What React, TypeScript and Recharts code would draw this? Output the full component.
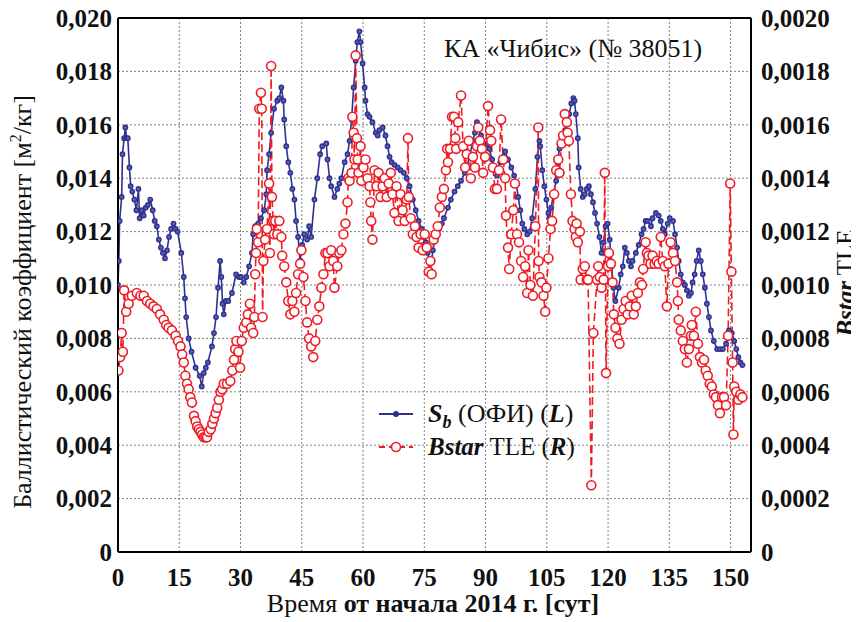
import React from 'react';
import { ComposedChart, Line, XAxis, YAxis, CartesianGrid, Legend } from 'recharts';

// S_b (ОФИ), left axis [м²/кг]: [day, value]
const sbSeries: [number, number][] = [
  [0, 0.0100], [0.2, 0.0109], [0.4, 0.0124], [0.9, 0.0133], [1.1, 0.0149], [1.5, 0.0155], [1.8, 0.0159],
  [2.1, 0.0155], [2.4, 0.0155], [2.8, 0.0144], [3.1, 0.0137], [3.5, 0.0135], [4.0, 0.0132], [4.5, 0.0128],
  [5.0, 0.0136], [5.3, 0.0125], [5.8, 0.0128], [6.3, 0.0126], [6.8, 0.0129], [7.3, 0.0130], [7.9, 0.0132],
  [8.5, 0.0128], [9.0, 0.0124], [9.5, 0.0122], [10.0, 0.0117], [10.5, 0.0114], [11.0, 0.0112], [11.5, 0.0110],
  [12.0, 0.0113], [12.5, 0.0118], [13.0, 0.0121], [13.6, 0.0123], [14.1, 0.0121], [14.6, 0.0120], [15.5, 0.0112],
  [16.1, 0.0103], [16.4, 0.0095], [16.7, 0.0088], [17.3, 0.0080], [18.0, 0.0075], [19.0, 0.0069], [20.0, 0.0066],
  [20.5, 0.0062], [21.0, 0.0067], [21.5, 0.0069], [22.0, 0.0071], [23.0, 0.0077], [23.5, 0.0082], [24.0, 0.0088],
  [24.5, 0.0099], [25.0, 0.0109], [25.3, 0.0103], [25.6, 0.0093], [25.9, 0.0089], [26.4, 0.0094], [27.0, 0.0094],
  [27.9, 0.0097], [28.9, 0.0104], [29.6, 0.0103], [30.1, 0.0103], [30.8, 0.0101], [31.4, 0.0103], [32.1, 0.0107],
  [32.8, 0.0112], [33.1, 0.0119], [33.6, 0.0122], [34.3, 0.0123], [35.0, 0.0125], [35.8, 0.0128], [36.3, 0.0134],
  [36.5, 0.0143], [37.0, 0.0149], [37.5, 0.0157], [38.2, 0.0166], [39.0, 0.0169], [39.5, 0.0170], [40.0, 0.0174],
  [40.5, 0.0169], [40.7, 0.0162], [41.2, 0.0152], [41.7, 0.0146], [42.2, 0.0142], [42.7, 0.0136], [43.2, 0.0132],
  [43.6, 0.0124], [44.1, 0.0118], [44.6, 0.0109], [44.9, 0.0113], [45.1, 0.0115], [45.6, 0.0119], [46.3, 0.0117],
  [46.8, 0.0122], [47.3, 0.0118], [48.1, 0.0132], [48.8, 0.0140], [49.5, 0.0149], [50.0, 0.0152], [51.0, 0.0153],
  [51.3, 0.0147], [51.8, 0.0140], [52.2, 0.0137], [53.0, 0.0133], [53.7, 0.0136], [54.2, 0.0138], [54.7, 0.0140],
  [55.5, 0.0146], [56.2, 0.0149], [56.7, 0.0154], [57.2, 0.0162], [57.7, 0.0174], [58.2, 0.0184], [58.6, 0.0191],
  [59.1, 0.0195], [59.4, 0.0191], [59.9, 0.0183], [60.4, 0.0174], [60.6, 0.0169], [61.1, 0.0164], [61.6, 0.0163],
  [62.3, 0.0161], [63.1, 0.0157], [63.6, 0.0156], [64.0, 0.0158], [64.8, 0.0159], [65.5, 0.0156], [66.0, 0.0152],
  [66.5, 0.0148], [67.0, 0.0146], [67.7, 0.0145], [68.5, 0.0144], [69.2, 0.0143], [70.0, 0.0142], [70.7, 0.0140],
  [71.4, 0.0137], [72.2, 0.0132], [72.9, 0.0128], [73.6, 0.0124], [74.4, 0.0121], [74.9, 0.0118], [75.4, 0.0116],
  [75.8, 0.0112], [76.2, 0.0109], [76.8, 0.0109], [77.1, 0.0113], [77.8, 0.0118], [78.6, 0.0121], [79.3, 0.0123],
  [79.8, 0.0125], [80.8, 0.0129], [81.5, 0.0132], [82.4, 0.0135], [83.2, 0.0137], [84.0, 0.0139], [84.9, 0.0142],
  [85.4, 0.0144], [86.2, 0.0149], [86.9, 0.0154], [87.4, 0.0157], [87.9, 0.0161], [88.4, 0.0159], [88.9, 0.0156],
  [89.2, 0.0152], [89.6, 0.0149], [90.4, 0.0153], [90.9, 0.0151], [91.6, 0.0147], [92.3, 0.0144], [92.8, 0.0141],
  [93.6, 0.0146], [94.3, 0.0148], [94.8, 0.0150], [95.5, 0.0147], [96.3, 0.0144], [97.0, 0.0141], [97.5, 0.0138],
  [98.0, 0.0133], [98.5, 0.0128], [99.0, 0.0123], [99.5, 0.0121], [100.2, 0.0119], [100.8, 0.0120], [101.4, 0.0125],
  [102.2, 0.0136], [102.7, 0.0148], [103.2, 0.0154], [103.4, 0.0152], [103.9, 0.0143], [104.4, 0.0137], [104.9, 0.0132],
  [105.4, 0.0127], [105.6, 0.0125], [106.1, 0.0129], [106.6, 0.0134], [107.3, 0.0139], [107.6, 0.0146], [108.1, 0.0151],
  [108.6, 0.0154], [109.0, 0.0156], [109.5, 0.0158], [110.0, 0.0162], [110.5, 0.0164], [111.0, 0.0168], [111.5, 0.0170],
  [111.8, 0.0169], [112.1, 0.0164], [112.6, 0.0155], [112.8, 0.0144], [113.3, 0.0136], [113.8, 0.0133], [114.3, 0.0134],
  [114.8, 0.0136], [115.3, 0.0137], [115.8, 0.0134], [116.3, 0.0131], [116.8, 0.0127], [117.3, 0.0123], [117.9, 0.0118],
  [118.4, 0.0112], [118.9, 0.0116], [119.4, 0.0122], [119.9, 0.0123], [120.4, 0.0117], [120.9, 0.0107], [121.3, 0.0099],
  [121.8, 0.0094], [122.6, 0.0099], [123.1, 0.0104], [123.6, 0.0107], [124.1, 0.0114], [124.6, 0.0112], [125.1, 0.0109],
  [125.6, 0.0107], [126.0, 0.0109], [126.8, 0.0112], [127.5, 0.0115], [128.2, 0.0119], [128.7, 0.0121], [129.2, 0.0124],
  [129.7, 0.0124], [130.5, 0.0122], [130.9, 0.0125], [131.7, 0.0127], [132.4, 0.0126], [132.9, 0.0124], [133.4, 0.0121],
  [133.9, 0.0119], [134.6, 0.0123], [135.1, 0.0125], [135.9, 0.0124], [136.4, 0.0119], [136.9, 0.0114], [137.3, 0.0109],
  [137.8, 0.0104], [138.3, 0.0101], [138.8, 0.0100], [139.3, 0.0098], [139.8, 0.0096], [140.3, 0.0097], [140.7, 0.0101],
  [141.2, 0.0104], [141.7, 0.0109], [142.2, 0.0113], [142.7, 0.0109], [143.2, 0.0104], [143.7, 0.0099], [144.2, 0.0093],
  [144.7, 0.0088], [145.2, 0.0083], [145.9, 0.0079], [146.7, 0.0076], [147.4, 0.0076], [148.1, 0.0076], [148.9, 0.0078],
  [149.6, 0.0083], [150.3, 0.0082], [150.9, 0.0079], [151.4, 0.0076], [151.9, 0.0073], [152.4, 0.0071], [152.9, 0.0070],
];

// Bstar TLE, right axis: [day, value]
const bstarSeries: [number, number][] = [
  [0.1, 0.00068], [0.5, 0.00073], [0.9, 0.00082], [1.2, 0.00075], [1.5, 0.00098], [2.0, 0.00090], [2.6, 0.00093],
  [3.4, 0.00096], [4.6, 0.00097], [5.5, 0.00096], [6.3, 0.00096], [7.1, 0.00094], [7.9, 0.00093], [8.7, 0.00092],
  [9.5, 0.00091], [10.3, 0.00089], [11.2, 0.00087], [11.8, 0.00085], [12.4, 0.00084], [13.2, 0.00083], [14.1, 0.00081],
  [14.7, 0.00079], [15.3, 0.00077], [15.7, 0.00074], [16.1, 0.00071], [16.5, 0.00066], [16.9, 0.00063], [17.3, 0.00061],
  [17.7, 0.00058], [18.1, 0.00056], [18.6, 0.00051], [19.0, 0.00049], [19.4, 0.00047], [19.8, 0.00046], [20.2, 0.00045],
  [20.6, 0.00044], [21.0, 0.00043], [21.4, 0.00043], [21.8, 0.00043], [22.2, 0.00045], [22.7, 0.00046], [23.1, 0.00048],
  [23.5, 0.00050], [23.9, 0.00052], [24.3, 0.00054], [24.7, 0.00057], [25.1, 0.00060], [25.5, 0.00061], [25.9, 0.00063],
  [26.7, 0.00063], [27.5, 0.00064], [28.0, 0.00068], [28.4, 0.00072], [28.7, 0.00076], [29.0, 0.00079], [29.5, 0.00075],
  [29.9, 0.00069], [30.3, 0.00079], [30.8, 0.00084], [31.4, 0.00086], [31.8, 0.00089], [32.3, 0.00093], [32.6, 0.00084],
  [33.1, 0.00082], [33.4, 0.00088], [33.6, 0.00104], [33.8, 0.00112], [34.0, 0.00121], [34.3, 0.00116], [34.6, 0.00166],
  [35.0, 0.00172], [35.2, 0.00166], [35.4, 0.00088], [35.6, 0.00109], [36.0, 0.00117], [36.5, 0.00121], [37.0, 0.00138],
  [37.2, 0.00112], [37.5, 0.00182], [37.7, 0.00133], [38.0, 0.00124], [38.2, 0.00119], [38.5, 0.00124], [39.0, 0.00119],
  [39.5, 0.00124], [40.0, 0.00118], [40.2, 0.00111], [40.7, 0.00107], [41.2, 0.00101], [41.7, 0.00094], [42.2, 0.00089],
  [42.7, 0.00094], [43.2, 0.00090], [43.6, 0.00097], [44.1, 0.00104], [44.6, 0.00108], [44.9, 0.00113], [45.4, 0.00103],
  [45.9, 0.00094], [46.3, 0.00086], [46.8, 0.00080], [47.3, 0.00077], [47.8, 0.00073], [48.3, 0.00079], [48.8, 0.00087],
  [49.3, 0.00092], [49.8, 0.00099], [50.3, 0.00104], [50.8, 0.00112], [51.3, 0.00112], [51.8, 0.00107], [52.2, 0.00113],
  [52.7, 0.00109], [53.0, 0.00099], [53.7, 0.00107], [54.2, 0.00112], [54.7, 0.00113], [55.2, 0.00119], [55.7, 0.00123],
  [56.2, 0.00131], [56.4, 0.00140], [56.7, 0.00139], [57.2, 0.00142], [57.4, 0.00163], [57.7, 0.00157], [57.9, 0.00147],
  [58.2, 0.00186], [58.5, 0.00155], [58.7, 0.00147], [58.9, 0.00142], [59.4, 0.00152], [59.6, 0.00139], [60.1, 0.00144],
  [60.6, 0.00147], [61.1, 0.00140], [61.6, 0.00137], [61.8, 0.00131], [62.0, 0.00124], [62.3, 0.00117], [62.8, 0.00143],
  [63.3, 0.00137], [63.8, 0.00142], [64.3, 0.00133], [64.8, 0.00137], [65.3, 0.00140], [65.8, 0.00133], [66.3, 0.00138],
  [66.8, 0.00142], [67.2, 0.00134], [67.7, 0.00127], [68.2, 0.00137], [68.7, 0.00124], [69.2, 0.00134], [69.7, 0.00128],
  [70.2, 0.00124], [70.7, 0.00132], [71.0, 0.00155], [71.2, 0.00133], [71.7, 0.00125], [72.2, 0.00119], [72.7, 0.00122],
  [73.1, 0.00118], [73.6, 0.00114], [74.1, 0.00119], [74.6, 0.00113], [75.1, 0.00119], [75.6, 0.00114], [76.1, 0.00105],
  [76.5, 0.00109], [76.8, 0.00104], [77.3, 0.00117], [77.8, 0.00119], [78.3, 0.00122], [78.8, 0.00129], [79.3, 0.00133],
  [79.8, 0.00136], [80.3, 0.00143], [80.6, 0.00151], [80.8, 0.00146], [81.3, 0.00151], [81.8, 0.00163], [82.3, 0.00163],
  [82.6, 0.00155], [82.8, 0.00151], [83.3, 0.00161], [84.0, 0.00171], [84.5, 0.00152], [85.0, 0.00144], [85.4, 0.00149],
  [85.9, 0.00154], [86.4, 0.00140], [86.9, 0.00148], [87.4, 0.00144], [87.9, 0.00152], [88.2, 0.00159], [88.6, 0.00154],
  [89.1, 0.00151], [89.4, 0.00142], [89.9, 0.00148], [90.6, 0.00167], [91.1, 0.00158], [91.4, 0.00154], [91.8, 0.00144],
  [92.3, 0.00136], [92.8, 0.00136], [93.3, 0.00143], [93.8, 0.00162], [94.3, 0.00147], [94.8, 0.00140], [95.0, 0.00126],
  [95.5, 0.00114], [95.8, 0.00106], [96.3, 0.00119], [96.8, 0.00128], [97.2, 0.00138], [97.7, 0.00119], [98.2, 0.00116],
  [98.7, 0.00109], [99.2, 0.00103], [99.7, 0.00107], [100.2, 0.00097], [100.5, 0.00113], [101.0, 0.00100], [101.6, 0.00096],
  [102.2, 0.00122], [102.9, 0.00159], [103.0, 0.00109], [103.2, 0.00103], [103.7, 0.00101], [104.2, 0.00096], [104.6, 0.00090],
  [104.9, 0.00099], [105.4, 0.00110], [105.9, 0.00121], [106.3, 0.00124], [106.8, 0.00134], [107.3, 0.00143], [107.8, 0.00147],
  [108.1, 0.00142], [108.6, 0.00153], [109.0, 0.00156], [109.4, 0.00164], [109.9, 0.00161], [110.1, 0.00157], [110.4, 0.00154],
  [110.9, 0.00134], [111.3, 0.00124], [111.8, 0.00121], [112.1, 0.00118], [112.3, 0.00123], [112.6, 0.00116], [113.1, 0.00120],
  [113.3, 0.00102], [113.8, 0.00106], [114.3, 0.00107], [114.8, 0.00102], [115.1, 0.00102], [115.9, 0.00025], [116.4, 0.00082],
  [117.3, 0.00102], [117.6, 0.00107], [118.0, 0.00103], [118.4, 0.00099], [118.9, 0.00102], [119.2, 0.00142], [119.5, 0.00067],
  [120.0, 0.00107], [120.2, 0.00112], [120.7, 0.00108], [121.1, 0.00101], [121.4, 0.00089], [121.8, 0.00084], [122.3, 0.00080],
  [122.8, 0.00078], [123.3, 0.00087], [123.8, 0.00091], [124.3, 0.00094], [124.8, 0.00089], [125.3, 0.00092], [125.8, 0.00096],
  [126.3, 0.00089], [126.8, 0.00092], [127.3, 0.00097], [127.8, 0.00101], [128.3, 0.00100], [128.6, 0.00106], [129.2, 0.00116],
  [129.5, 0.00112], [129.9, 0.00111], [130.4, 0.00108], [130.9, 0.00111], [131.4, 0.00108], [131.9, 0.00109], [132.4, 0.00108],
  [132.9, 0.00118], [133.4, 0.00109], [133.9, 0.00107], [134.4, 0.00092], [134.8, 0.00108], [135.3, 0.00116], [135.9, 0.00112],
  [136.4, 0.00109], [136.9, 0.00101], [137.1, 0.00094], [137.3, 0.00087], [137.8, 0.00083], [138.3, 0.00079], [138.8, 0.00076],
  [139.3, 0.00071], [139.8, 0.00076], [140.3, 0.00081], [140.5, 0.00085], [141.0, 0.00081], [141.5, 0.00090], [142.0, 0.00078],
  [142.5, 0.00073], [143.0, 0.00071], [143.5, 0.00072], [143.9, 0.00068], [144.4, 0.00066], [144.9, 0.00063], [145.4, 0.00062],
  [145.9, 0.00059], [146.4, 0.00058], [146.9, 0.00055], [147.4, 0.00052], [147.9, 0.00058], [148.4, 0.00058], [148.9, 0.00055],
  [149.4, 0.00081], [149.9, 0.00138], [150.2, 0.00105], [150.5, 0.00071], [150.7, 0.00044], [150.9, 0.00062], [151.4, 0.00060],
  [151.9, 0.00057], [152.4, 0.00059], [152.9, 0.00058],
];

const xTicks = [0, 15, 30, 45, 60, 75, 90, 105, 120, 135, 150];
const xMinorTicks = [0, 3, 6, 9, 12, 15, 18, 21, 24, 27, 30, 33, 36, 39, 42, 45, 48, 51, 54, 57, 60, 63, 66, 69, 72, 75,
  78, 81, 84, 87, 90, 93, 96, 99, 102, 105, 108, 111, 114, 117, 120, 123, 126, 129, 132, 135, 138, 141, 144, 147, 150, 153];
const leftTicks = [0, 0.002, 0.004, 0.006, 0.008, 0.010, 0.012, 0.014, 0.016, 0.018, 0.020];
const leftMinorTicks = [0, 0.001, 0.002, 0.003, 0.004, 0.005, 0.006, 0.007, 0.008, 0.009, 0.010, 0.011, 0.012, 0.013,
  0.014, 0.015, 0.016, 0.017, 0.018, 0.019, 0.020];
const rightTicks = [0, 0.0002, 0.0004, 0.0006, 0.0008, 0.0010, 0.0012, 0.0014, 0.0016, 0.0018, 0.0020];
const rightMinorTicks = [0, 0.0001, 0.0002, 0.0003, 0.0004, 0.0005, 0.0006, 0.0007, 0.0008, 0.0009, 0.0010, 0.0011,
  0.0012, 0.0013, 0.0014, 0.0015, 0.0016, 0.0017, 0.0018, 0.0019, 0.0020];

const titleText = 'КА «Чибис» (№ 38051)';

const sbData = sbSeries.map(([t, v]) => ({ t, sb: v }));
const bstarData = bstarSeries.map(([t, v]) => ({ t, bstar: v }));

const FONT = 'Liberation Serif, Times New Roman, DejaVu Serif, serif';
const SERIF = { fontFamily: FONT };
const BLUE = '#2e3190';
const RED = '#ee1c25';
const INK = '#111';

const fmtLeft = (v: number) => (v === 0 ? '0' : v.toFixed(3).replace('.', ','));
const fmtRight = (v: number) => (v === 0 ? '0' : v.toFixed(4).replace('.', ','));

const tickStyle = { fontSize: 25, fontWeight: 'bold' as const, fill: INK, style: SERIF };

const LeftTitle = () => (
  <text x={15} y={294} transform="rotate(-90 15 294)" textAnchor="middle" dy={8}
    style={SERIF} fontSize={26} fill={INK}>
    <tspan>Баллистический коэффициент [м</tspan>
    <tspan fontSize={16} dy={-10}>2</tspan>
    <tspan dy={10}>/кг]</tspan>
  </text>
);

const RightTitle = () => (
  <text x={838} y={275} transform="rotate(-90 838 275)" textAnchor="middle" dy={8}
    style={SERIF} fontSize={25} fill={INK}>
    <tspan fontStyle="italic" fontWeight="bold">Bstar</tspan>
    <tspan> TLE</tspan>
  </text>
);

const BottomTitle = () => (
  <text x={425} y={604} textAnchor="middle" style={SERIF} fontSize={26} fill={INK}>
    <tspan>Время </tspan>
    <tspan fontWeight="bold">от начала 2014 г. [сут]</tspan>
  </text>
);

const TopTitle = () => (
  <text x={565} y={49} textAnchor="middle" style={SERIF} fontSize={26} fill={INK}>
    {titleText}
  </text>
);

const LegendBox = () => (
  <svg width={240} height={80} style={{ overflow: 'visible', display: 'block' }}>
    <line x1={9} x2={43} y1={19} y2={19} stroke={BLUE} strokeWidth={2} />
    <circle cx={26} cy={19} r={2.6} fill={BLUE} stroke={BLUE} />
    <text x={58} y={27} style={SERIF} fontSize={26} fill={INK}>
      <tspan fontStyle="italic" fontWeight="bold">S</tspan>
      <tspan fontStyle="italic" fontWeight="bold" fontSize={18} dy={6}>b</tspan>
      <tspan dy={-6}> (ОФИ) (</tspan>
      <tspan fontStyle="italic" fontWeight="bold">L</tspan>
      <tspan>)</tspan>
    </text>
    <line x1={9} x2={43} y1={52} y2={52} stroke={RED} strokeWidth={1.8} strokeDasharray="6 4" />
    <circle cx={26} cy={52} r={4.5} fill="#fff" stroke={RED} strokeWidth={1.6} />
    <text x={58} y={60} style={SERIF} fontSize={25} fill={INK}>
      <tspan fontStyle="italic" fontWeight="bold">Bstar</tspan>
      <tspan> TLE (</tspan>
      <tspan fontStyle="italic" fontWeight="bold">R</tspan>
      <tspan>)</tspan>
    </text>
  </svg>
);

export default function App() {
  return (
    <div style={{ width: 851, height: 612, fontFamily: FONT }}>
      <ComposedChart width={851} height={612} margin={{ top: 10, right: 18, bottom: 28, left: 20 }}
        style={SERIF}>
        <CartesianGrid xAxisId="main" yAxisId="left" stroke="#808080" strokeDasharray="2 2" strokeWidth={1} />
        <XAxis xAxisId="main" dataKey="t" type="number" domain={[0, 155]} allowDataOverflow ticks={xTicks} interval={0}
          height={40} tickLine={false} tickSize={0} tickMargin={16} tick={tickStyle}
          axisLine={{ stroke: '#000', strokeWidth: 2 }} label={BottomTitle} />
        <XAxis xAxisId="top" orientation="top" mirror type="number" domain={[0, 155]} allowDataOverflow ticks={xMinorTicks}
          interval={0} tick={false} tickSize={5} tickLine={{ stroke: '#000', strokeWidth: 1 }}
          axisLine={{ stroke: '#000', strokeWidth: 2 }} label={TopTitle} />
        <XAxis xAxisId="bottomMinor" orientation="bottom" mirror type="number" domain={[0, 155]} allowDataOverflow
          ticks={xMinorTicks} interval={0} tick={false} tickSize={5} tickLine={{ stroke: '#000', strokeWidth: 1 }}
          axisLine={false} />
        <YAxis yAxisId="left" orientation="left" type="number" domain={[0, 0.02]} allowDataOverflow ticks={leftTicks}
          interval={0} width={90} tickLine={false} tickSize={0} tickMargin={6} tick={tickStyle}
          tickFormatter={fmtLeft} axisLine={{ stroke: '#000', strokeWidth: 2 }} label={LeftTitle} />
        <YAxis yAxisId="leftMinor" orientation="left" mirror type="number" domain={[0, 0.02]} allowDataOverflow
          ticks={leftMinorTicks} interval={0} tick={false} tickSize={5} tickLine={{ stroke: '#000', strokeWidth: 1 }}
          axisLine={false} />
        <YAxis yAxisId="right" orientation="right" type="number" domain={[0, 0.002]} allowDataOverflow ticks={rightTicks}
          interval={0} width={90} tickLine={false} tickSize={0} tickMargin={10} tick={tickStyle}
          tickFormatter={fmtRight} axisLine={{ stroke: '#000', strokeWidth: 2 }} label={RightTitle} />
        <YAxis yAxisId="rightMinor" orientation="right" mirror type="number" domain={[0, 0.002]} allowDataOverflow
          ticks={rightMinorTicks} interval={0} tick={false} tickSize={5} tickLine={{ stroke: '#000', strokeWidth: 1 }}
          axisLine={false} />
        <Line data={sbData} dataKey="sb" xAxisId="main" yAxisId="left" type="linear" stroke={BLUE} strokeWidth={1.6}
          dot={{ r: 2.2, fill: '#5a5fb0', stroke: BLUE, strokeWidth: 1.4 }} activeDot={false} isAnimationActive={false}
          name="sb" legendType="none" />
        <Line data={bstarData} dataKey="bstar" xAxisId="main" yAxisId="right" type="linear" stroke={RED} strokeWidth={1.6}
          strokeDasharray="8 4" dot={{ r: 4.5, fill: '#fff', stroke: RED, strokeWidth: 1.6, strokeDasharray: '0' }}
          activeDot={false} isAnimationActive={false} name="bstar" legendType="none" />
        <Legend layout="vertical" align="center" verticalAlign="middle" content={LegendBox}
          wrapperStyle={{ left: 362, top: 387, width: 240, height: 80 }} />
      </ComposedChart>
    </div>
  );
}
